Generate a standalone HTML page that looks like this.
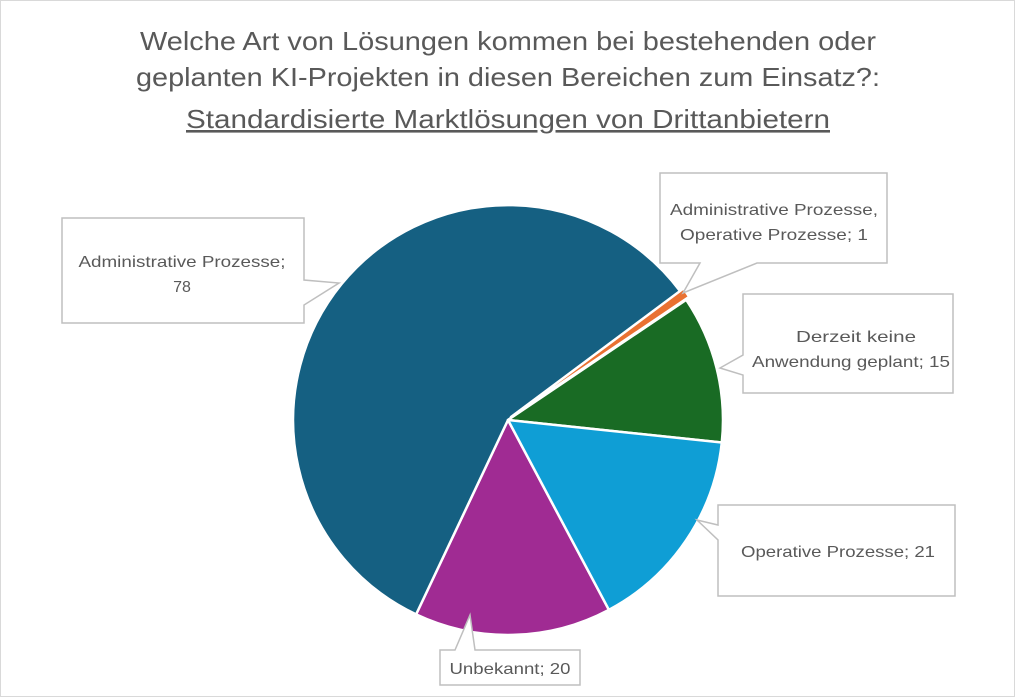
<!DOCTYPE html>
<html><head><meta charset="utf-8"><style>
body{margin:0;background:#fff}
svg{display:block}
text{font-family:"Liberation Sans",sans-serif;fill:#595959}
</style></head><body>
<svg width="1015" height="697" viewBox="0 0 1015 697">
<rect x="0.5" y="0.5" width="1014" height="696" fill="#fff" stroke="#d9d9d9"/>
<g font-size="26" text-anchor="middle" lengthAdjust="spacingAndGlyphs">
<text x="508" y="50" textLength="736" lengthAdjust="spacingAndGlyphs">Welche Art von Lösungen kommen bei bestehenden oder</text>
<text x="508" y="86" textLength="744" lengthAdjust="spacingAndGlyphs">geplanten KI-Projekten in diesen Bereichen zum Einsatz?:</text>
<text x="508" y="128" textLength="644" lengthAdjust="spacingAndGlyphs" text-decoration="underline">Standardisierte Marktlösungen von Drittanbietern</text>
</g>
<g stroke="#fff" stroke-width="2.5" stroke-linejoin="round">
<path d="M508,420 L608.9,609.8 A215,215 0 0 1 416.1,614.4 Z" fill="#a02b93"/>
<path d="M508,420 L416.1,614.4 A215,215 0 1 1 680.4,291.5 Z" fill="#156082"/>
<path d="M511,417 L683.4,288.5 A215,215 0 0 1 689.2,296.8 Z" fill="#e97132"/>
<path d="M508,420 L686.2,299.8 A215,215 0 0 1 721.8,442.5 Z" fill="#196b24"/>
<path d="M508,420 L721.8,442.5 A215,215 0 0 1 608.9,609.8 Z" fill="#0f9ed5"/>
</g>
<g fill="#fff" stroke="#bfbfbf" stroke-width="1.5">
<path d="M62,218 H304 V280 L339,283 L304,305 V323 H62 Z"/>
<path d="M660,173 H887 V263 H757 L683,293 L700,263 H660 Z"/>
<path d="M743,294 H953 V393 H743 V375 L720,368 L743,355 Z"/>
<path d="M718,505 H955 V596 H718 V540 L697,520 L718,525 Z"/>
<path d="M440,650 H455 L470,615 L475,650 H580 V685 H440 Z"/>
</g>
<g font-size="16" text-anchor="middle">
<text x="182" y="267" textLength="207" lengthAdjust="spacingAndGlyphs">Administrative Prozesse;</text>
<text x="182" y="292">78</text>
<text x="774" y="215" textLength="208" lengthAdjust="spacingAndGlyphs">Administrative Prozesse,</text>
<text x="774" y="240" textLength="188" lengthAdjust="spacingAndGlyphs">Operative Prozesse; 1</text>
<text x="856" y="342" textLength="120" lengthAdjust="spacingAndGlyphs">Derzeit keine</text>
<text x="851" y="367" textLength="198" lengthAdjust="spacingAndGlyphs">Anwendung geplant; 15</text>
<text x="838" y="557" textLength="194" lengthAdjust="spacingAndGlyphs">Operative Prozesse; 21</text>
<text x="510" y="674" textLength="121" lengthAdjust="spacingAndGlyphs">Unbekannt; 20</text>
</g>
</svg>
</body></html>
